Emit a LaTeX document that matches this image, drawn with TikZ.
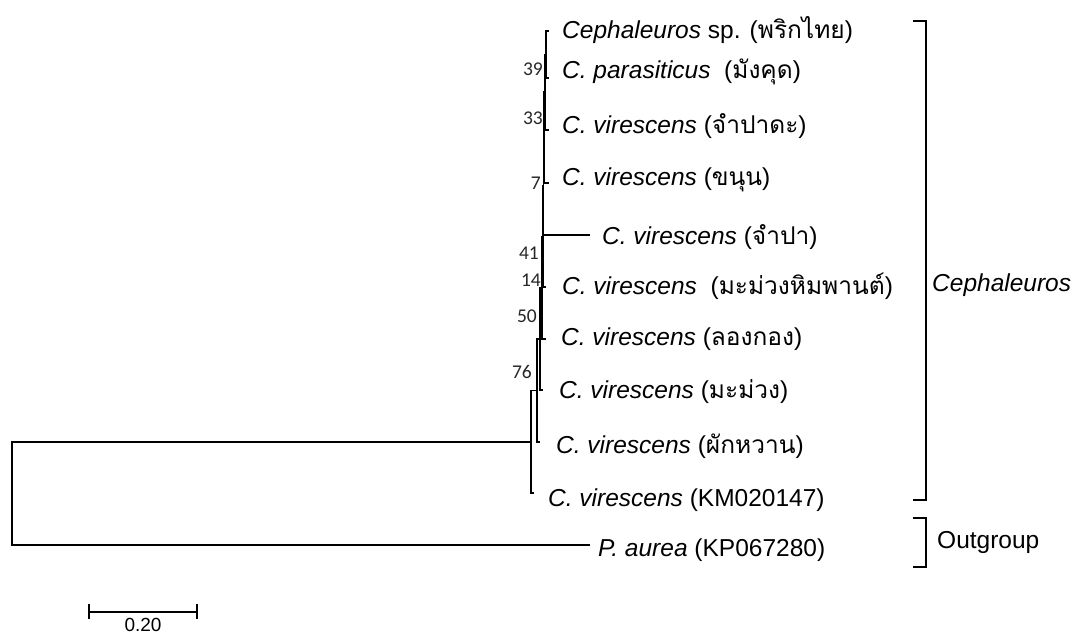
\documentclass[tikz,border=0pt]{standalone}
\usepackage{fontspec}
\setmainfont{Liberation Sans}
\newfontfamily\thai[Script=Thai]{Loma}
\newfontfamily\numf{Carlito}
\begin{document}
\begin{tikzpicture}[x=1pt,y=-1pt,
  br/.style={line width=1.8pt,line cap=rect},
  leaf/.style={anchor=west,inner sep=0pt,font=\fontsize{24.5}{28}\selectfont},
  boot/.style={anchor=east,inner sep=0pt,font=\numf\fontsize{19.5}{22}\selectfont,text=black!85},
  grp/.style={line width=1.5pt}]
\useasboundingbox (0,0) rectangle (1083,636);
% leaf tips
\coordinate (L1) at (548,31);
\coordinate (L2) at (548,78);
\coordinate (L3) at (548,130);
\coordinate (L4) at (548,183);
\coordinate (L5) at (589,235);
\coordinate (L6) at (545,287);
\coordinate (L7) at (545,339);
\coordinate (L8) at (542,390);
\coordinate (L9) at (539,442);
\coordinate (L10) at (533,493);
\coordinate (LP) at (589,545);
% internal nodes
\coordinate (N1) at (546,54.5);
\coordinate (N2) at (545,92);
\coordinate (N3) at (544,137.5);
\coordinate (N4) at (543.5,186);
\coordinate (N5) at (543,236.5);
\coordinate (N6) at (542,288);
\coordinate (N7) at (540,339);
\coordinate (N8) at (537,390.5);
\coordinate (N9) at (531,442);
\coordinate (R) at (12,493.5);
% branches
\draw[br] (N1) |- (L1);
\draw[br] (N1) |- (L2);
\draw[br] (N2) |- (N1);
\draw[br] (N2) |- (L3);
\draw[br] (N3) |- (N2);
\draw[br] (N3) |- (L4);
\draw[br] (N4) |- (N3);
\draw[br] (N4) |- (L5);
\draw[br] (N5) |- (N4);
\draw[br] (N5) |- (L6);
\draw[br] (N6) |- (N5);
\draw[br] (N6) |- (L7);
\draw[br] (N7) |- (N6);
\draw[br] (N7) |- (L8);
\draw[br] (N8) |- (N7);
\draw[br] (N8) |- (L9);
\draw[br] (N9) |- (N8);
\draw[br] (N9) |- (L10);
\draw[br] (R) |- (N9);
\draw[br] (R) |- (LP);
% leaf labels
\node[leaf] (t1) at (562,30) {\textit{Cephaleuros} sp. ({\thai พริกไทย})};
\node[leaf] (t2) at (562,72) {\textit{C. parasiticus}\ \ ({\thai มังคุด})};
\node[leaf] (t3) at (562,126) {\textit{C. virescens} ({\thai จำปาดะ})};
\node[leaf] (t4) at (562,180) {\textit{C. virescens} ({\thai ขนุน})};
\node[leaf] (t5) at (602,237) {\textit{C. virescens} ({\thai จำปา})};
\node[leaf] (t6) at (562,286) {\textit{C. virescens}\ \ ({\thai มะม่วงหิมพานต์})};
\node[leaf] (t7) at (561,339) {\textit{C. virescens} ({\thai ลองกอง})};
\node[leaf] (t8) at (559,392) {\textit{C. virescens} ({\thai มะม่วง})};
\node[leaf] (t9) at (556,446) {\textit{C. virescens} ({\thai ผักหวาน})};
\node[leaf] (t10) at (548,500) {\textit{C. virescens} (KM020147)};
\node[leaf] (tp) at (598,550) {\textit{P. aurea} (KP067280)};
% bootstrap values
\node[boot] (b39) at (543,69) {39};
\node[boot] (b33) at (543,118) {33};
\node[boot] (b7) at (541,183) {7};
\node[boot] (b41) at (539,253) {41};
\node[boot] (b14) at (541,280) {14};
\node[boot] (b50) at (537,316) {50};
\node[boot] (b76) at (532,372) {76};
% group brackets
\draw[grp] (913,21) -- (926,21) -- (926,500) -- (913,500);
\draw[grp] (913,518) -- (926,518) -- (926,567) -- (913,567);
\node[leaf] (gC) at (932,285) {\textit{Cephaleuros}};
\node[leaf] (gO) at (937,542) {Outgroup};
% scale bar
\coordinate (s1) at (89,612);
\coordinate (s2) at (197,612);
\draw[line width=1.5pt] (s1) -- (s2);
\draw[line width=1.5pt] (89,604) -- (89,619);
\draw[line width=1.5pt] (197,604) -- (197,619);
\node[inner sep=0pt,font=\fontsize{19}{21}\selectfont] (sl) at (143,625) {0.20};
\end{tikzpicture}
\end{document}
